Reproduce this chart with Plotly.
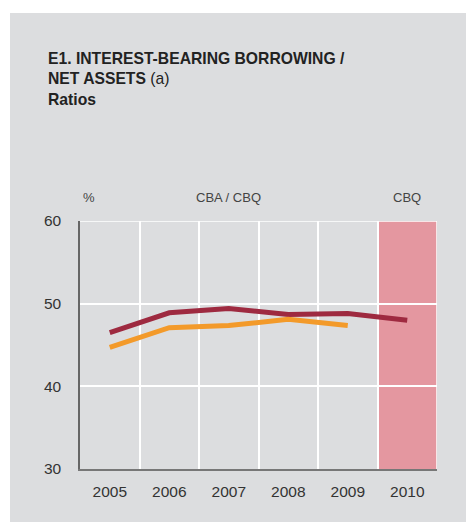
import plotly.graph_objects as go

# Interest-bearing borrowing / net assets, by year (%)
years = ["2005", "2006", "2007", "2008", "2009", "2010"]
cbq_series = [46.5, 48.9, 49.4, 48.7, 48.8, 48.0]
cba_series = [44.7, 47.1, 47.35, 48.1, 47.35]
y_ticks = [30, 40, 50, 60]

RED = "#9e2a40"
ORANGE = "#f39a2a"
PANEL = "#dcdddf"
PINK = "#e497a0"
FONT = "Liberation Sans, Arial, sans-serif"

W, H = 466, 522
ML, MR, MT, MB = 80, 29, 221, 53
PW, PH = W - ML - MR, H - MT - MB


def px_x(x):
    return (x - ML) / PW


def px_y(y):
    return 1 - (y - MT) / PH


x_idx = list(range(len(years)))

fig = go.Figure()
fig.add_trace(go.Scatter(
    x=x_idx, y=cbq_series, mode="lines",
    line=dict(color=RED, width=5), hoverinfo="skip", showlegend=False,
))
fig.add_trace(go.Scatter(
    x=x_idx[:len(cba_series)], y=cba_series, mode="lines",
    line=dict(color=ORANGE, width=5), hoverinfo="skip", showlegend=False,
))

shapes = [
    # grey panel behind the whole chart
    dict(type="rect", xref="paper", yref="paper", layer="below",
         x0=px_x(10), x1=px_x(W + 5), y0=px_y(H + 5), y1=px_y(13),
         fillcolor=PANEL, line=dict(width=0)),
    # shaded CBQ-only year
    dict(type="rect", xref="x", yref="y", layer="below",
         x0=4.5, x1=5.5, y0=30, y1=60,
         fillcolor=PINK, line=dict(width=0)),
    # right edge of the plot area
    dict(type="line", xref="x", yref="y", layer="above",
         x0=5.5, x1=5.5, y0=30, y1=60, line=dict(color="white", width=1.5)),
    # top grid line
    dict(type="line", xref="x", yref="y", layer="above",
         x0=-0.5, x1=5.5, y0=60, y1=60, line=dict(color="white", width=1.5)),
]

annotations = [
    dict(xref="paper", yref="paper", x=px_x(46), y=px_y(48),
         xanchor="left", yanchor="top", align="left", showarrow=False,
         text="<b>E1. INTEREST-BEARING BORROWING /<br>NET ASSETS</b> (a)<br><b>Ratios</b>",
         font=dict(family=FONT, size=15.7, color="#222")),
    dict(xref="paper", yref="paper", x=px_x(81), y=px_y(197),
         xanchor="left", yanchor="middle", showarrow=False, text="%",
         font=dict(family=FONT, size=13, color="#444")),
    dict(xref="x", yref="paper", x=2.0, y=px_y(197),
         xanchor="center", yanchor="middle", showarrow=False, text="CBA / CBQ",
         font=dict(family=FONT, size=13, color="#444")),
    dict(xref="x", yref="paper", x=5.0, y=px_y(197),
         xanchor="center", yanchor="middle", showarrow=False, text="CBQ",
         font=dict(family=FONT, size=13, color="#444")),
]

fig.update_layout(
    width=W, height=H,
    margin=dict(l=ML, r=MR, t=MT, b=MB),
    paper_bgcolor="white",
    plot_bgcolor=PANEL,
    shapes=shapes,
    annotations=annotations,
    xaxis=dict(
        range=[-0.5, 5.5], tickmode="array", tickvals=x_idx, ticktext=years,
        showgrid=False, zeroline=False, showline=True, linecolor="#777", linewidth=2,
        ticks="", ticklen=0, ticklabelstandoff=7,
        tickfont=dict(family=FONT, size=15.5, color="#333"),
        minor=dict(tickmode="array", tickvals=[0.5, 1.5, 2.5, 3.5, 4.5],
                   showgrid=True, gridcolor="white", gridwidth=1.5, ticks=""),
        fixedrange=True,
    ),
    yaxis=dict(
        range=[30, 60], tickmode="array", tickvals=y_ticks,
        showgrid=True, gridcolor="white", gridwidth=1.5, zeroline=False,
        showline=True, linecolor="#666", linewidth=1.5, ticks="", ticklen=0,
        ticklabelstandoff=14,
        tickfont=dict(family=FONT, size=15.5, color="#333"),
        fixedrange=True,
    ),
)

fig.write_html("out.html")
